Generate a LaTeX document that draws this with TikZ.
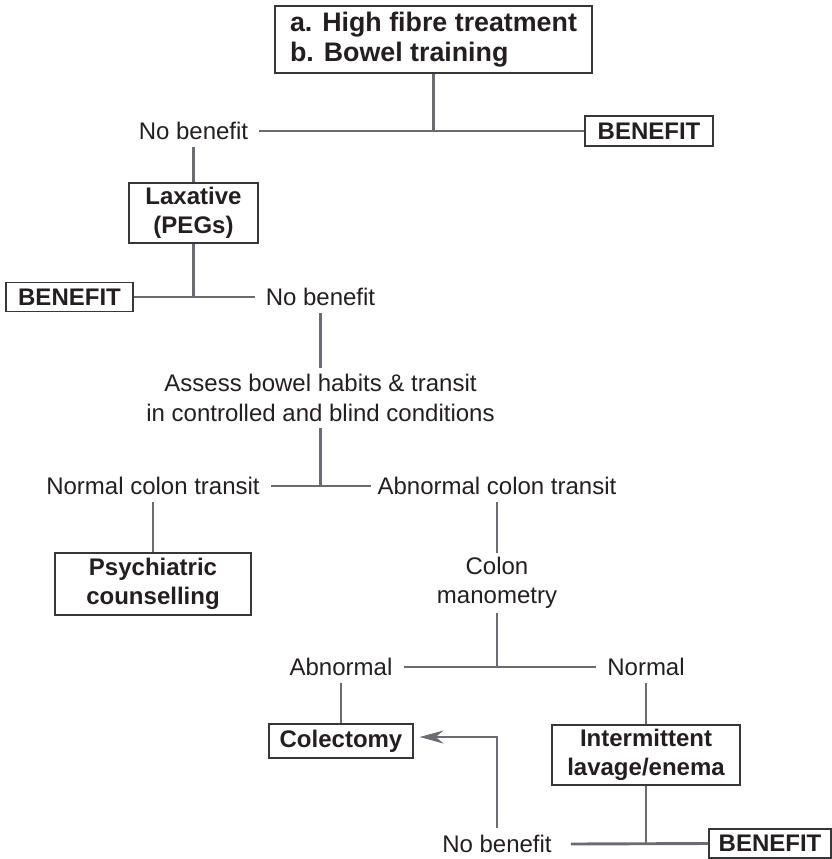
\documentclass[tikz,border=0pt]{standalone}
\usepackage{fontspec}
\setmainfont{Liberation Sans}
\usepackage{tikz}
\usetikzlibrary{arrows.meta,positioning,calc}
\definecolor{linkgray}{RGB}{108,108,112}
\definecolor{boxgray}{RGB}{55,55,57}
\definecolor{inkdark}{RGB}{35,31,32}

\begin{document}
\begin{tikzpicture}[x=1pt, y=-1pt, >={Stealth[length=24pt, width=13pt, inset=8pt]},
  every node/.style={text=inkdark, font=\fontsize{24}{29.5}\selectfont},
  tbox/.style={draw=boxgray, line width=1.2pt, align=center, inner sep=0pt,
    font=\fontsize{24}{29.5}\selectfont\bfseries},
  lbl/.style={inner xsep=11pt, inner ysep=6pt, text height=18pt, text depth=2pt},
  lbltwo/.style={align=center, inner sep=0pt, minimum height=60pt},
  link/.style={draw=linkgray, line width=2.9pt}]

  \useasboundingbox (0,0) rectangle (832,859);

  % Define coordinates for nodes
  \node[tbox, align=left, minimum width=317pt, minimum height=67pt,
    font=\fontsize{26.8}{30}\selectfont\bfseries] (treat) at (433.5,39.5)
    {a. High fibre treatment\\b. Bowel training};
  \node[lbl] (nb1) at (193.5,131) {No benefit};
  \node[tbox, minimum width=128pt, minimum height=30pt] (ben1) at (649,131) {BENEFIT};
  \node[tbox, minimum width=129pt, minimum height=60pt] (lax) at (193.5,213) {Laxative\\(PEGs)};
  \node[tbox, minimum width=127pt, minimum height=29pt] (ben2) at (69.5,297) {BENEFIT};
  \node[lbl] (nb2) at (320.5,297) {No benefit};
  \node[lbltwo] (assess) at (320.5,398) {Assess bowel habits \& transit\\in controlled and blind conditions};
  \node[lbl] (nct) at (153,486) {Normal colon transit};
  \node[lbl, inner xsep=6pt] (act) at (497,486) {Abnormal colon transit};
  \node[tbox, minimum width=196pt, minimum height=62pt] (psych) at (153,584) {Psychiatric\\counselling};
  \node[lbltwo] (colman) at (497,583) {Colon\\manometry};
  \node[lbl] (abn) at (341,667) {Abnormal};
  \node[lbl] (nor) at (646,667) {Normal};
  \node[tbox, minimum width=144pt, minimum height=34pt] (colec) at (341,741) {Colectomy};
  \node[tbox, minimum width=188pt, minimum height=60pt] (lavage) at (646,755) {Intermittent\\lavage/enema};
  \node[lbl, inner xsep=19pt] (nb3) at (497,844) {No benefit};
  \node[tbox, minimum width=122pt, minimum height=29pt] (ben3) at (770,843.5) {BENEFIT};

  % Junctions of the branches
  \coordinate (j1) at (treat.south |- nb1.east);
  \coordinate (j2) at (lax.south |- nb2.west);
  \coordinate (j3) at (assess.south |- act.west);
  \coordinate (j4) at (colman.south |- nor.west);
  \coordinate (j5) at (lavage.south |- ben3.west);

  % Draw lines between nodes
  \draw[link] (treat.south) -- (j1);
  \draw[link] (nb1.east) -- (ben1.west);
  \draw[link] (nb1.south) -- (lax.north);
  \draw[link] (lax.south) -- (j2);
  \draw[link] (ben2.east) -- (nb2.west);
  \draw[link] (nb2.south) -- (assess.north);
  \draw[link] (assess.south) -- (j3);
  \draw[link] (nct.east) -- (act.west);
  \draw[link] (nct.south) -- (psych.north);
  \draw[link] (act.south) -- (colman.north);
  \draw[link] (colman.south) -- (j4);
  \draw[link] (abn.east) -- (nor.west);
  \draw[link] (abn.south) -- (colec.north);
  \draw[link] (nor.south) -- (lavage.north);
  \draw[link] (lavage.south) -- (j5);
  \draw[link] (nb3.east) -- (ben3.west);
  \draw[link, ->, shorten >=6pt] (nb3.north) |- ([yshift=4pt]colec.east);
\end{tikzpicture}
\end{document}
